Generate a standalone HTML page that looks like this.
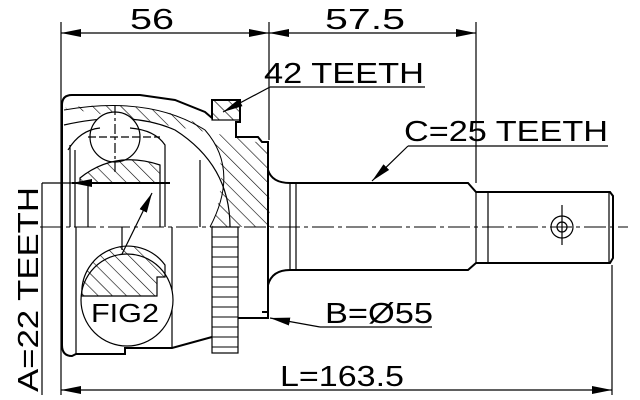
<!DOCTYPE html>
<html><head><meta charset="utf-8"><style>
html,body{margin:0;padding:0;background:#fff;}
svg{display:block;}
text{font-family:"Liberation Sans",sans-serif;fill:#000;}
</style></head><body>
<svg width="640" height="400" viewBox="0 0 640 400" xmlns="http://www.w3.org/2000/svg">
<defs>
<marker id="a" viewBox="0 0 20 8" refX="20" refY="4" markerWidth="20" markerHeight="8" orient="auto-start-reverse" markerUnits="userSpaceOnUse"><path d="M0,0 L20,4 L0,8 z" fill="#000"/></marker>
<pattern id="h" width="10" height="10" patternUnits="userSpaceOnUse" patternTransform="rotate(-45)"><line x1="0" y1="0" x2="0" y2="10" stroke="#000" stroke-width="1.2"/></pattern>
</defs>
<g stroke="#000" fill="none" stroke-width="1.2">
<line x1="61" y1="22" x2="61" y2="395"/>
<line x1="269" y1="22" x2="269" y2="140"/>
<line x1="476" y1="22" x2="476" y2="183"/>
<line x1="612" y1="265" x2="612" y2="395"/>
<line x1="61" y1="33" x2="269" y2="33" marker-start="url(#a)" marker-end="url(#a)"/>
<line x1="269" y1="33" x2="476" y2="33" marker-start="url(#a)" marker-end="url(#a)"/>
<line x1="61" y1="390" x2="612" y2="390" marker-start="url(#a)" marker-end="url(#a)"/>
<line x1="42" y1="183" x2="42" y2="395"/>
<line x1="42" y1="183" x2="92" y2="183"/>
<line x1="40" y1="227" x2="628" y2="227" stroke-dasharray="22,4,4,4" stroke-width="1"/>
<path d="M62,105 Q62,95 72,95 L140,95 L175,100 L205,112 L212,118 L212,100 L240,100 L240,122 L236,122 L236,137 L258,137 L262,142 L268,142 L268,185" stroke-width="2"/>
<path d="M64,108 Q150,98 200,125 Q235,150 212,227 L270,227 L268,145 L236,137" fill="url(#h)" stroke="none"/>
<path d="M64,110 Q150,95 205,130 Q240,170 210,227" stroke-width="1"/>
<path d="M64,125 Q130,110 175,130 Q230,165 230,227"/>
<rect x="212" y="100" width="28" height="20" fill="url(#h)"/>
<circle cx="115" cy="137" r="25" fill="#fff"/>
<line x1="115" y1="105" x2="115" y2="172" stroke-dasharray="10,3,3,3"/>
<line x1="88" y1="137" x2="160" y2="137" stroke-dasharray="8,3"/>
<path d="M80,178 Q115,150 160,165 L160,183 L80,183 z" fill="url(#h)"/>
<path d="M68,150 Q80,130 100,128 M130,128 Q155,130 165,145 L165,227"/>
<line x1="70" y1="145" x2="70" y2="227"/>
<line x1="75" y1="150" x2="75" y2="227"/>
<line x1="88" y1="183" x2="88" y2="227"/>
<line x1="160" y1="183" x2="160" y2="227"/>
<line x1="200" y1="160" x2="200" y2="227"/>
<line x1="62" y1="105" x2="62" y2="345" stroke-width="2"/>
<line x1="72" y1="183" x2="170" y2="183" stroke-width="2"/>
<path d="M62,345 Q62,356 72,356 L76,354 L125,354 L125,348 L172,348 L212,337" stroke-width="2"/>
<line x1="76" y1="227" x2="76" y2="354"/>
<line x1="122" y1="227" x2="122" y2="250"/>
<line x1="172" y1="227" x2="172" y2="348"/>
<circle cx="127" cy="300" r="46" fill="#fff"/>
<path d="M82,296 A46,46 0 0 1 165,265 L165,277 L157,277 L157,296 z" fill="url(#h)"/>
<line x1="122" y1="254" x2="152" y2="193" marker-end="url(#a)"/>
<line x1="72" y1="183" x2="92" y2="183" marker-start="url(#a)"/>
<rect x="212" y="227" width="26" height="126" fill="#fff"/>
<g stroke-width="1">
<line x1="212" y1="237" x2="238" y2="237"/><line x1="212" y1="247" x2="238" y2="247"/><line x1="212" y1="257" x2="238" y2="257"/><line x1="212" y1="267" x2="238" y2="267"/><line x1="212" y1="277" x2="238" y2="277"/><line x1="212" y1="287" x2="238" y2="287"/><line x1="212" y1="297" x2="238" y2="297"/><line x1="212" y1="307" x2="238" y2="307"/><line x1="212" y1="317" x2="238" y2="317"/><line x1="212" y1="327" x2="238" y2="327"/><line x1="212" y1="337" x2="238" y2="337"/><line x1="212" y1="347" x2="238" y2="347"/>
</g>
<path d="M238,318 L268,318 L268,227" stroke-width="2"/>
<path d="M262,142 L268,142 L268,312 L262,312" stroke-width="2"/>
<path d="M268,170 Q272,183 290,183 L468,183 L476,192 L490,192 L610,192 L613,196 L613,258 L610,263 L490,263 L476,263 L468,270 L290,270 Q272,270 268,285" stroke-width="2"/>
<line x1="290" y1="183" x2="290" y2="270"/>
<line x1="296" y1="183" x2="296" y2="270"/>
<line x1="476" y1="192" x2="476" y2="263"/>
<line x1="488" y1="192" x2="488" y2="263"/>
<line x1="609" y1="192" x2="609" y2="263"/>
<circle cx="562" cy="227" r="11"/>
<circle cx="562" cy="227" r="5"/>
<line x1="562" y1="205" x2="562" y2="245"/>
<line x1="425" y1="87" x2="270" y2="87"/>
<line x1="270" y1="87" x2="223" y2="112" marker-end="url(#a)"/>
<line x1="408" y1="146" x2="608" y2="146"/>
<line x1="408" y1="146" x2="372" y2="181" marker-end="url(#a)"/>
<line x1="320" y1="327" x2="432" y2="327"/>
<line x1="320" y1="327" x2="270" y2="318" marker-end="url(#a)"/>
</g>
<text x="130" y="29" font-size="29" textLength="44" lengthAdjust="spacingAndGlyphs">56</text>
<text x="325" y="29" font-size="29" textLength="80" lengthAdjust="spacingAndGlyphs">57.5</text>
<text x="264" y="83" font-size="29" textLength="160" lengthAdjust="spacingAndGlyphs">42 TEETH</text>
<text x="404" y="141" font-size="29" textLength="204" lengthAdjust="spacingAndGlyphs">C=25 TEETH</text>
<text x="325" y="323" font-size="29" textLength="108" lengthAdjust="spacingAndGlyphs">B=Ø55</text>
<text x="280" y="386" font-size="29" textLength="124" lengthAdjust="spacingAndGlyphs">L=163.5</text>
<text x="91" y="322" font-size="26" textLength="68" lengthAdjust="spacingAndGlyphs">FIG2</text>
<text transform="translate(38,392) rotate(-90)" font-size="29" textLength="205" lengthAdjust="spacingAndGlyphs">A=22 TEETH</text>
</svg>
</body></html>
